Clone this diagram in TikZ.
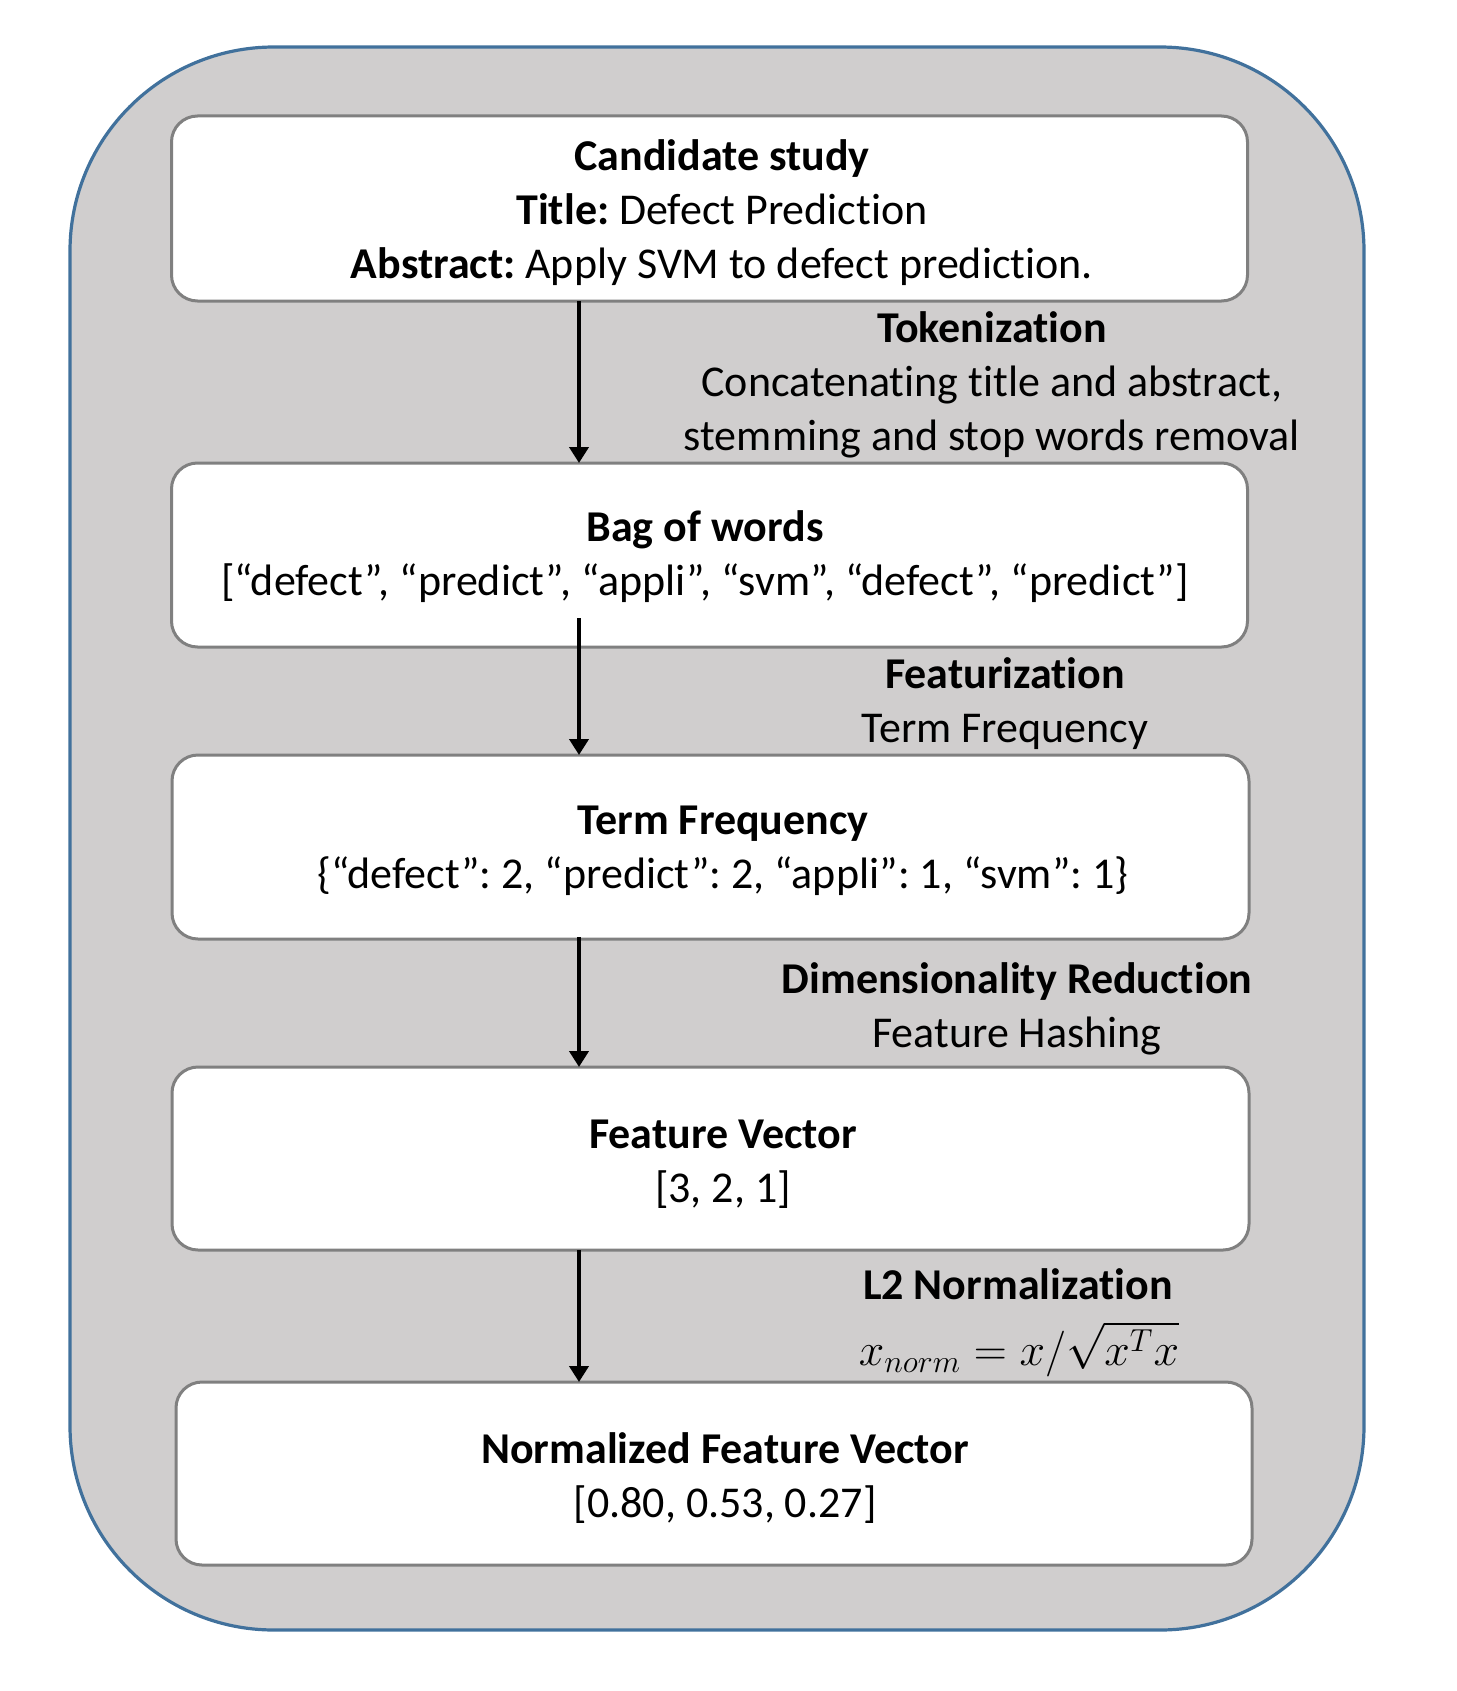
\documentclass[tikz,border=0pt]{standalone}
\usepackage{fontspec}
\usepackage{graphicx}
\setmainfont{Carlito}[Ligatures={NoCommon}]
\usetikzlibrary{arrows.meta}
\definecolor{framefill}{RGB}{208,206,206}
\definecolor{frameline}{RGB}{65,113,156}
\definecolor{boxline}{RGB}{128,128,128}
\frenchspacing
\begin{document}
\begin{tikzpicture}[x=0.5pt,y=-0.5pt,
  frame/.style={draw=frameline,line width=1.6pt,fill=framefill,rounded corners=102pt,inner sep=0pt,outer sep=0pt},
  stagebox/.style={draw=boxline,line width=1.5pt,fill=white,rounded corners=13pt,inner sep=0pt,outer sep=0pt,minimum width=538pt},
  boxtext/.style={align=center,inner sep=0pt,font=\fontsize{22pt}{27pt}\selectfont},
  steplabel/.style={align=center,inner sep=0pt,font=\fontsize{22pt}{27pt}\selectfont},
  mathlabel/.style={inner sep=0pt,font=\fontsize{22.5pt}{27pt}\selectfont},
  flow/.style={line width=2.2pt,-{Triangle[width=9.5pt,length=8pt]}}]
\useasboundingbox (0,0) rectangle (1456,1691);
\node[frame,minimum width=647pt,minimum height=791.5pt] (frame) at (717,838.5) {};
% stage boxes
\node[stagebox,minimum height=92.5pt] (b1) at (709.5,208.5) {};
\node[stagebox,minimum height=92pt] (b2) at (709.5,555) {};
\node[stagebox,minimum width=538.5pt,minimum height=92pt] (b3) at (710.5,847) {};
\node[stagebox,minimum width=538.5pt,minimum height=91.5pt] (b4) at (710.5,1158.5) {};
\node[stagebox,minimum height=91.5pt] (b5) at (714,1473.5) {};
% box texts
\node[boxtext] (t1) at (722,213) {\textbf{Candidate study}\\\textbf{Title:} Defect Prediction\\\textbf{Abstract:} Apply SVM to defect prediction.};
\node[boxtext] (t2) at (705,557) {\textbf{Bag of words}\\{[}“defect”, “predict”, “appli”, “svm”, “defect”, “predict”{]}};
\node[boxtext] (t3) at (723,851) {\textbf{Term Frequency}\\\{“defect”: 2, “predict”: 2, “appli”: 1, “svm”: 1\}};
\node[boxtext] (t4) at (723,1164) {\textbf{Feature Vector}\\{[}3, 2, 1{]}};
\node[boxtext] (t5) at (725,1478) {\textbf{Normalized Feature Vector}\\{[}0.80, 0.53, 0.27{]}};
% step labels
\node[steplabel] (l1) at (992,384.5) {\textbf{Tokenization}\\Concatenating title and abstract,\\stemming and stop words removal};
\node[steplabel] (l2) at (1005,704) {\textbf{Featurization}\\Term Frequency};
\node[steplabel] (l3) at (1017,1009) {\textbf{Dimensionality Reduction}\\Feature Hashing};
\node[steplabel] (l4) at (1018,1284.5) {\textbf{L2 Normalization}};
\node[mathlabel] (l4m) at (1019,1349) {\scalebox{1.105}{$x_{norm} = x/\sqrt{x^T x}$}};
% arrows
\coordinate (ax) at (579,0);
\draw[flow] (b1.south -| ax) -- (b2.north -| ax);
\draw[flow] ([yshift=14.5pt]b2.south -| ax) -- (b3.north -| ax);
\draw[flow] ([yshift=1pt]b3.south -| ax) -- (b4.north -| ax);
\draw[flow] (b4.south -| ax) -- (b5.north -| ax);
\end{tikzpicture}
\end{document}
